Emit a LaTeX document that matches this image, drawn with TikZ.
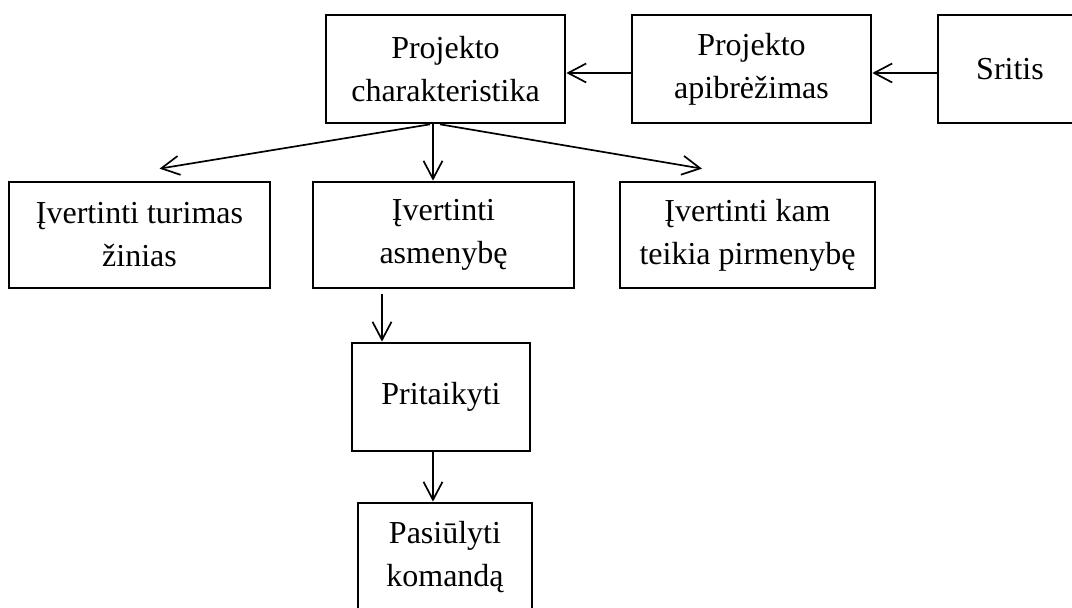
\documentclass[tikz,border=0pt]{standalone}
\usepackage{fontspec}
\setmainfont{Liberation Serif}
\usetikzlibrary{arrows.meta}

\begin{document}
\begin{tikzpicture}[x=0.5pt, y=-0.5pt,
  box/.style={draw=black, line width=1.35pt, inner sep=0pt, align=center,
    font=\fontsize{16}{21.5}\selectfont},
  link/.style={line width=0.85pt, -{Straight Barb[length=9pt, width=9.5pt, line width=0.85pt]}}]

  % page frame and clipping
  \useasboundingbox (0,0) rectangle (1072,608);
  \clip (0,0) rectangle (1072,608);

  % top row
  \node[box, minimum width=119.5pt, minimum height=54pt] (pc) at (445.5,69) {Projekto\\charakteristika};
  \node[box, minimum width=119.5pt, minimum height=54pt] (pa) at (751.5,69) {Projekto\\apibrėžimas};
  \node[box, minimum width=72pt, minimum height=54pt] (sr) at (1010,69) {Sritis};

  % second row
  \node[box, minimum width=130.5pt, minimum height=53pt] (tz) at (139.5,235) {Įvertinti turimas\\žinias};
  \node[box, minimum width=130.5pt, minimum height=53pt] (as) at (443.5,235) {Įvertinti\\asmenybę};
  \node[box, minimum width=127.5pt, minimum height=53pt] (km) at (747.5,235) {Įvertinti kam\\teikia pirmenybę};

  % lower chain
  \node[box, minimum width=89pt, minimum height=54pt] (pr) at (441,397) {Pritaikyti};
  \node[box, minimum width=87pt, minimum height=54pt] (ps) at (445,557) {Pasiūlyti\\komandą};

  % connector end points
  \coordinate (s1) at ([xshift=-7.75pt]pc.south);
  \coordinate (s2) at ([xshift=-6.25pt]pc.south);
  \coordinate (s3) at ([xshift=-2.75pt]pc.south);
  \coordinate (e1) at ([xshift=10pt, yshift=6pt]tz.north);
  \coordinate (e3) at ([xshift=-22.75pt, yshift=6pt]km.north);
  \coordinate (a1) at ([xshift=-30.75pt, yshift=-2.5pt]as.south);
  \coordinate (p1) at ([xshift=-4pt]pr.south);

  % connectors
  \draw[link] ([yshift=-2pt]sr.west) -- ([yshift=-2pt]pa.east);
  \draw[link] ([yshift=-2pt]pa.west) -- ([yshift=-2pt]pc.east);
  \draw[link] (s1) -- (e1);
  \draw[link] (s2) -- (s2 |- as.north);
  \draw[link] (s3) -- (e3);
  \draw[link] (a1) -- (a1 |- pr.north);
  \draw[link] (p1) -- (p1 |- ps.north);
\end{tikzpicture}
\end{document}
